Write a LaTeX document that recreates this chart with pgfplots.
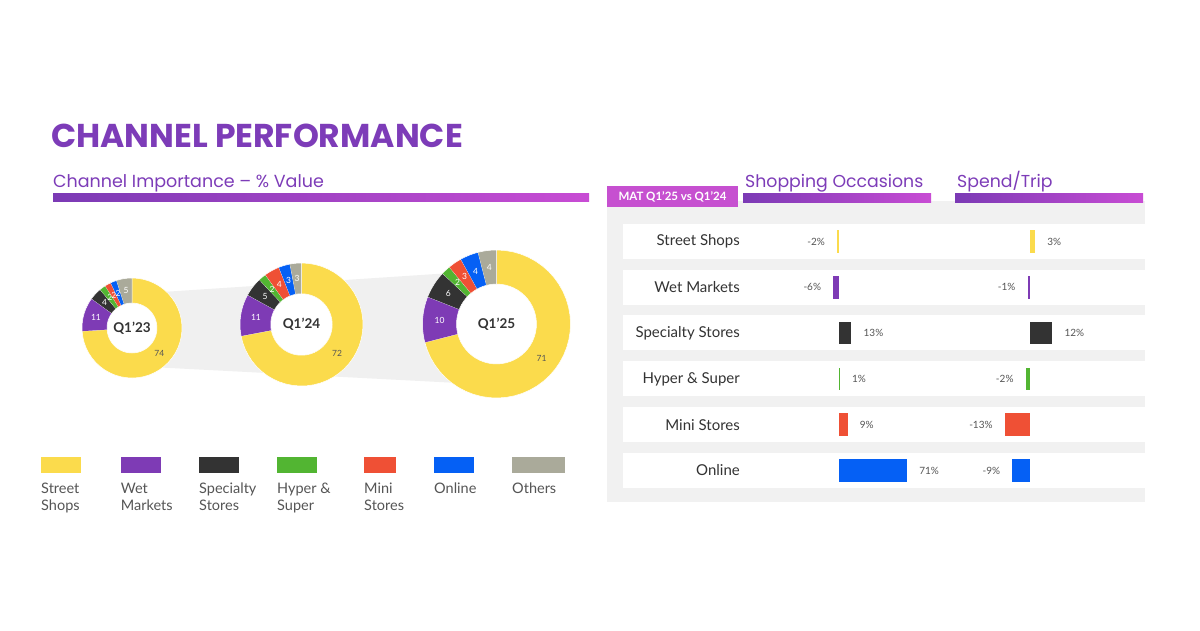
\documentclass[border=0pt]{standalone}
\usepackage{fontspec}
\setmainfont{Lato}
\newfontfamily\pop{Poppins}
\usepackage{pgfplots}
\usepackage{pgfplotstable}
\pgfplotsset{compat=1.18}

\definecolor{cY}{HTML}{FBDB4C}
\definecolor{cP}{HTML}{7E3BB5}
\definecolor{cK}{HTML}{333333}
\definecolor{cG}{HTML}{52B532}
\definecolor{cR}{HTML}{EF5035}
\definecolor{cB}{HTML}{0560F5}
\definecolor{cO}{HTML}{AAAA9A}
\definecolor{tPurple}{HTML}{7D3CB8}
\definecolor{gL}{HTML}{7B3AB5}
\definecolor{gR}{HTML}{C84CD4}
\definecolor{boxM}{HTML}{C650D0}
\definecolor{panel}{HTML}{F1F1F1}
\definecolor{band}{HTML}{F0F0F0}
\definecolor{numgrey}{HTML}{555555}
\definecolor{labgrey}{HTML}{333333}

% donut data: value, fill colour, label colour
\pgfplotstableread{
v c t
74 cY numgrey
11 cP white
4 cK white
2 cG white
2 cR white
2 cB white
5 cO white
}\tA
\pgfplotstableread{
v c t
72 cY numgrey
11 cP white
5 cK white
2 cG white
4 cR white
3 cB white
3 cO white
}\tB
\pgfplotstableread{
v c t
71 cY numgrey
10 cP white
6 cK white
2 cG white
3 cR white
4 cB white
4 cO white
}\tC

\newcommand\dnum{\fontsize{8.5}{9}\selectfont}

\newcommand\buildwedge[4]{%
  \gdef\wedgecoords{}%
  \foreach \k in {0,...,40}{%
    \pgfmathsetmacro\th{(#1)+((#2)-(#1))*\k/40}%
    \pgfmathsetmacro\px{#4*cos(\th)}%
    \pgfmathsetmacro\py{#4*sin(\th)}%
    \xdef\wedgecoords{\wedgecoords (\px,\py)}%
  }%
  \foreach \k in {0,...,40}{%
    \pgfmathsetmacro\th{(#2)+((#1)-(#2))*\k/40}%
    \pgfmathsetmacro\px{#3*cos(\th)}%
    \pgfmathsetmacro\py{#3*sin(\th)}%
    \xdef\wedgecoords{\wedgecoords (\px,\py)}%
  }%
}

\newcommand\donut[2]{%
  \def\cum{0}%
  \pgfplotsforeachungrouped \i in {0,...,6}{%
    \pgfplotstablegetelem{\i}{v}\of{#1}\let\val\pgfplotsretval
    \pgfplotstablegetelem{\i}{c}\of{#1}\let\col\pgfplotsretval
    \pgfplotstablegetelem{\i}{t}\of{#1}\let\tcol\pgfplotsretval
    \pgfmathsetmacro\aA{90-3.6*\cum}%
    \pgfmathsetmacro\aB{90-3.6*(\cum+\val)}%
    \pgfmathsetmacro\aM{(\aA+\aB)/2}%
    \pgfmathsetmacro\rM{(1+#2)/2}%
    \pgfmathsetmacro\lx{\rM*cos(\aM)}%
    \pgfmathsetmacro\ly{\rM*sin(\aM)}%
    \buildwedge{\aA}{\aB}{#2}{1}%
    \edef\temp{\noexpand\addplot[fill=\col,draw=white,line width=0.5pt,forget plot] coordinates {\wedgecoords};
      \noexpand\node[text=\tcol,font=\noexpand\dnum,inner sep=0pt] at (axis cs:\lx,\ly) {\val};}%
    \temp
    \pgfmathsetmacro\cum{\cum+\val}%
  }%
}

\pgfplotsset{
  donutax/.style={anchor=center, scale only axis, xmin=-1, xmax=1, ymin=-1, ymax=1, hide axis, clip=false},
  barax/.style={anchor=origin, y dir=reverse, y=45.8pt, ymin=-0.5, ymax=5.5,
    xbar, bar width=22.5pt, bar shift=0pt, enlargelimits=false,
    axis line style={draw=none}, xtick=\empty, major tick length=0pt,
    point meta=x,
    nodes near coords={\pgfmathprintnumber[assume math mode=true]{\pgfplotspointmeta}\%},
    nodes near coords align={horizontal},
    every node near coord/.append style={font=\fontsize{10}{12}\selectfont, text=numgrey, inner xsep=12pt, inner ysep=0pt}},
}

\begin{document}
\begin{tikzpicture}
\begin{scope}[x=1pt,y=-1pt]
\path[use as bounding box] (0,0) rectangle (1200,630);
\fill[white] (0,0) rectangle (1200,630);
% title
\node[anchor=base west, inner sep=0pt, text=tPurple, font=\pop\bfseries\fontsize{33}{33}\selectfont] at (51,147) {CHANNEL PERFORMANCE};
\node[anchor=base west, inner sep=0pt, text=tPurple, font=\pop\fontsize{17.5}{18}\selectfont] at (53,187) {Channel Importance – \% Value};
\shade[left color=gL, right color=gR] (53,193) rectangle (589,201);
% band behind donuts
\fill[band] (132,294) -- (497,270) -- (497,385) -- (132,366) -- cycle;
\fill[white] (132,328) circle (25);
\fill[white] (301.5,324.5) circle (30.75);
\fill[white] (496.5,324) circle (40);
% right panel
\fill[panel] (607,201) rectangle (1145,502);
\fill[boxM] (607,186) rectangle (738,207);
\node[text=white, font=\bfseries\fontsize{11.5}{12}\selectfont, inner sep=0pt] at (672.5,196.5) {MAT Q1’25 vs Q1’24};
\node[anchor=base west, inner sep=0pt, text=tPurple, font=\pop\fontsize{17.3}{18}\selectfont] at (745,187) {Shopping Occasions};
\shade[left color=gL, right color=gR] (743,193) rectangle (931,202);
\node[anchor=base west, inner sep=0pt, text=tPurple, font=\pop\fontsize{17.3}{18}\selectfont] at (957,187) {Spend/Trip};
\shade[left color=gL, right color=gR] (955,193) rectangle (1143,202);
\foreach \t in {223.5,269.5,315,361,406.5,452.5}{\fill[white] (623,\t) rectangle (1145,\t+35);}
% legend
\foreach \xa/\xb/\la/\lb/\cc in {41/81/Street/Shops/cY, 120.7/160.5/Wet/Markets/cP, 199/238.7/Specialty/Stores/cK, 277/317/Hyper \&/Super/cG, 364/396/Mini/Stores/cR, 434/474/Online//cB, 512/565/Others//cO}{
  \fill[\cc] (\xa,457) rectangle (\xb,472.5);
  \node[anchor=base west, inner sep=0pt, text=numgrey, font=\fontsize{14.5}{15}\selectfont] at (\xa,493) {\la};
  \node[anchor=base west, inner sep=0pt, text=numgrey, font=\fontsize{14.5}{15}\selectfont] at (\xa,510) {\lb};
}
\end{scope}

% donuts
\begin{axis}[donutax, at={(132pt,-328pt)}, width=100pt, height=100pt]
\donut{\tA}{0.5}
\node[text=cK, font=\bfseries\fontsize{13.5}{13.5}\selectfont] at (axis cs:0,0) {Q1’23};
\end{axis}
\begin{axis}[donutax, at={(301.5pt,-324.5pt)}, width=123pt, height=123pt]
\donut{\tB}{0.5}
\node[text=cK, font=\bfseries\fontsize{13.5}{13.5}\selectfont] at (axis cs:0,0) {Q1’24};
\end{axis}
\begin{axis}[donutax, at={(496.5pt,-324pt)}, width=148pt, height=148pt]
\donut{\tC}{0.54}
\node[text=cK, font=\bfseries\fontsize{13.5}{13.5}\selectfont] at (axis cs:0,0) {Q1’25};
\end{axis}

% Shopping occasions
\begin{axis}[barax, at={(839pt,-241.5pt)}, x=0.96pt, xmin=-10, xmax=75,
  ytick={0,...,5},
  yticklabels={Street Shops, Wet Markets, Specialty Stores, Hyper \& Super, Mini Stores, Online},
  yticklabel style={anchor=east, inner sep=0pt, xshift=-89.4pt, font=\fontsize{15}{15}\selectfont, text=labgrey}]
\addplot[fill=cY, draw=none] coordinates {(-2,0)};
\addplot[fill=cP, draw=none] coordinates {(-6,1)};
\addplot[fill=cK, draw=none] coordinates {(13,2)};
\addplot[fill=cG, draw=none] coordinates {(1,3)};
\addplot[fill=cR, draw=none] coordinates {(9,4)};
\addplot[fill=cB, draw=none] coordinates {(71,5)};
\end{axis}

% Spend/Trip
\begin{axis}[barax, at={(1029.5pt,-241.5pt)}, x=1.9pt, xmin=-15, xmax=15, ytick=\empty]
\addplot[fill=cY, draw=none] coordinates {(3,0)};
\addplot[fill=cP, draw=none] coordinates {(-1,1)};
\addplot[fill=cK, draw=none] coordinates {(12,2)};
\addplot[fill=cG, draw=none] coordinates {(-2,3)};
\addplot[fill=cR, draw=none] coordinates {(-13,4)};
\addplot[fill=cB, draw=none] coordinates {(-9,5)};
\end{axis}
\end{tikzpicture}
\end{document}
